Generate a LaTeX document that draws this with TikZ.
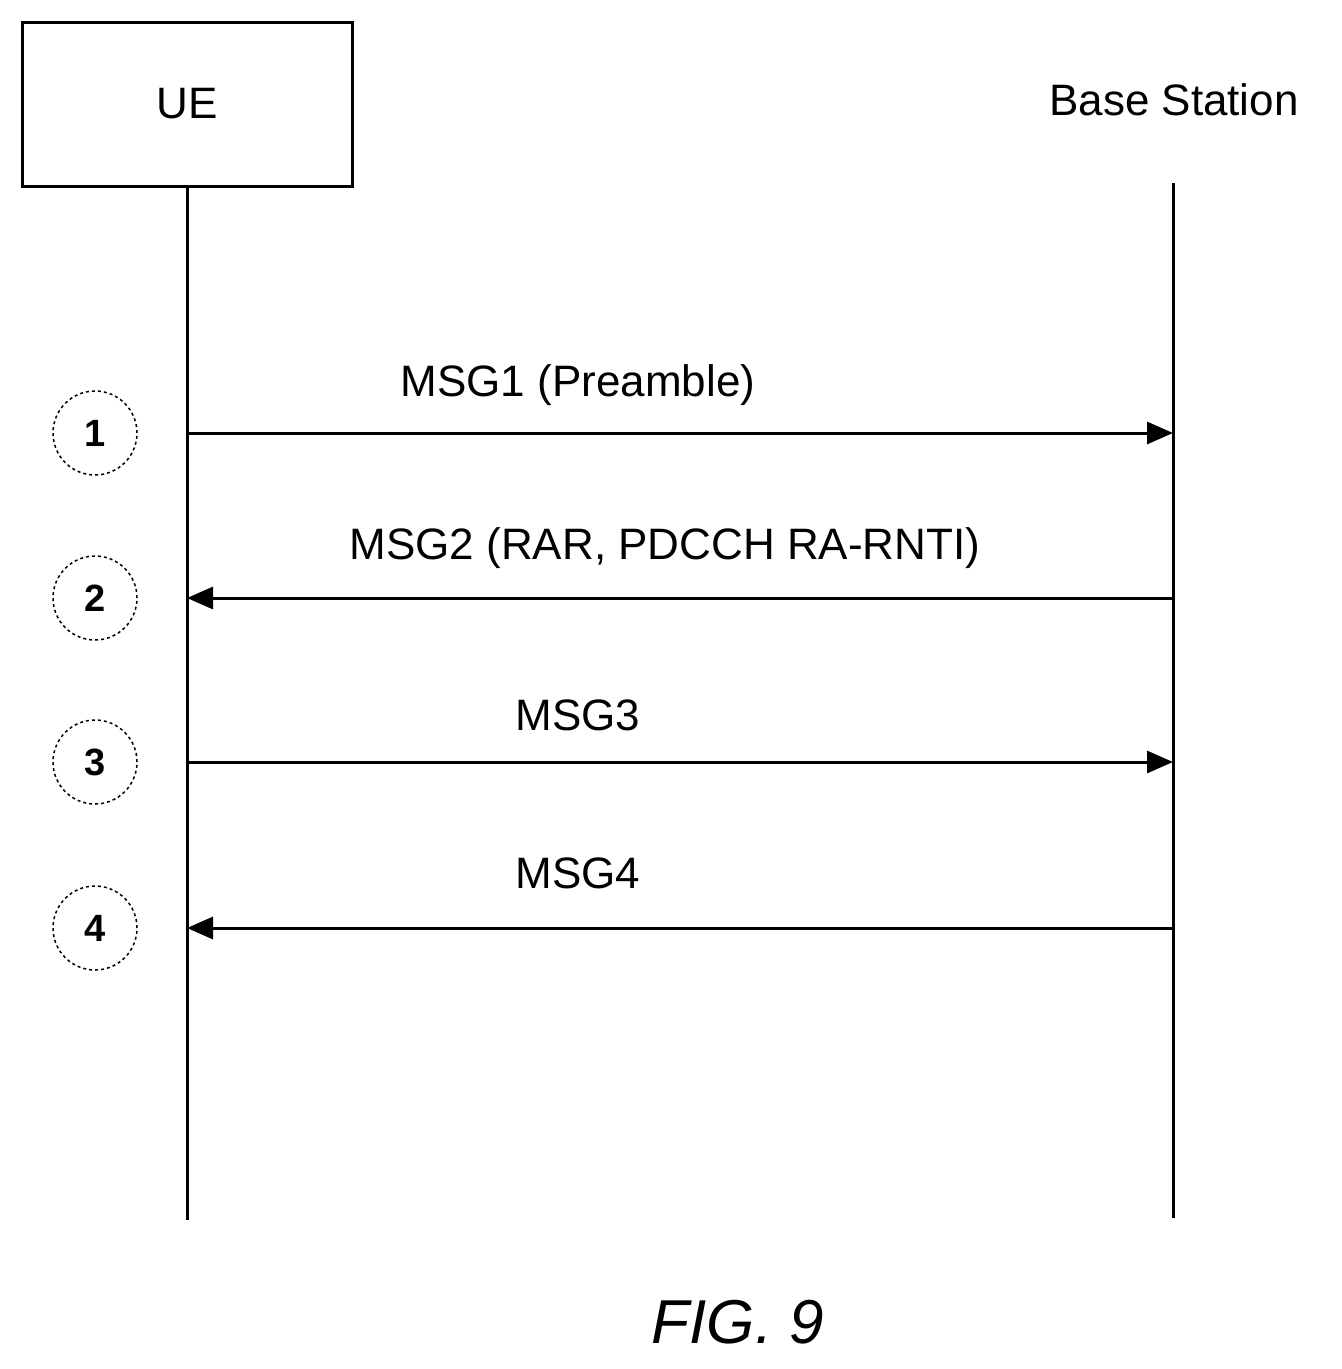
\documentclass[tikz,border=0pt]{standalone}
\usepackage{fontspec}
\setmainfont{Liberation Sans}
\usetikzlibrary{arrows.meta}
\begin{document}
\begin{tikzpicture}[x=1pt,y=-1pt,
  lbl/.style={font=\fontsize{44}{50}\selectfont},
  life/.style={line width=3pt},
  msg/.style={line width=3pt,-{Triangle[length=26pt,width=22pt]}},
  num/.style={circle,draw,dashed,line width=1.5pt,minimum size=84pt,inner sep=0pt,font=\fontsize{38}{44}\selectfont\bfseries}]
\useasboundingbox (0,0) rectangle (1342,1369);
\node[draw,line width=3pt,minimum width=330pt,minimum height=164pt,lbl] (ue) at (187,104) {UE};
\node[lbl] (bs) at (1174,100) {Base Station};
\coordinate (ueB) at (187,1220);
\coordinate (bsT) at (1173,183); \coordinate (bsB) at (1173,1218);
\draw[life] (ue.south) -- (ueB);
\draw[life] (bsT) -- (bsB);
\foreach \i/\y in {1/433,2/598,3/762,4/928}{
  \node[num] (n\i) at (95,\y) {\i};
  \coordinate (u\i) at (187,\y); \coordinate (b\i) at (1173,\y);
}
\draw[msg] (u1) -- (b1);
\draw[msg] (b2) -- (u2);
\draw[msg] (u3) -- (b3);
\draw[msg] (b4) -- (u4);
\node[lbl] (l1) at (578,385) {MSG1 (Preamble)};
\node[lbl] (l2) at (665,548) {MSG2 (RAR, PDCCH RA-RNTI)};
\node[lbl] (l3) at (578,715) {MSG3};
\node[lbl] (l4) at (578,873) {MSG4};
\node[font=\fontsize{62}{70}\selectfont\itshape] (fig) at (738,1322) {FIG. 9};
\end{tikzpicture}
\end{document}
